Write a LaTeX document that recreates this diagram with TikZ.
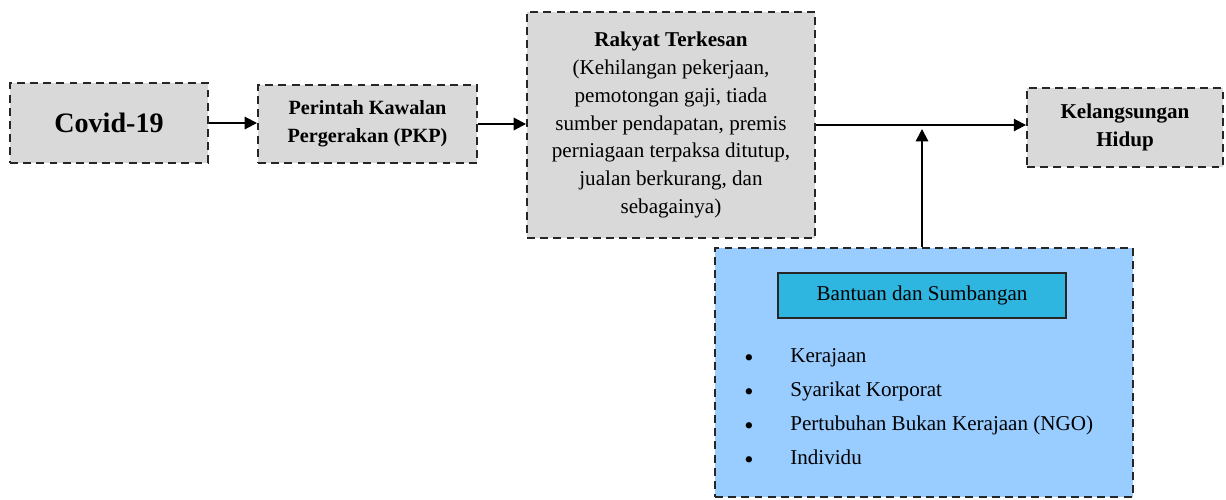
\documentclass[tikz,border=0pt]{standalone}
\usepackage{fontspec}
\setmainfont{Liberation Serif}
\usetikzlibrary{arrows.meta}
\definecolor{kelabu}{HTML}{D9D9D9}
\definecolor{birumuda}{HTML}{99CCFF}
\definecolor{biru}{HTML}{2EB5E0}
\tikzset{
  kotak/.style={draw=black!85, line width=1.1pt, dash pattern=on 4.5pt off 3pt,
    fill=kelabu, align=center, inner sep=2pt},
  anak/.style={-{Triangle[length=7pt,width=7pt]}, line width=1.1pt},
}
\begin{document}
\begin{tikzpicture}
    \useasboundingbox (0,0) rectangle (24.52,-9.98);

    % Boxes along the top row
    \node[kotak, minimum width=3.96cm, minimum height=1.6cm, font=\fontsize{16}{19}\selectfont\bfseries]
      (covid) at (2.18,-2.46) {Covid-19};
    \node[kotak, minimum width=4.38cm, minimum height=1.56cm, font=\fontsize{11.5}{16}\selectfont\bfseries]
      (pkp) at (7.35,-2.48) {Perintah Kawalan\\Pergerakan (PKP)};
    \node[kotak, minimum width=5.76cm, minimum height=4.52cm, font=\fontsize{12}{15.9}\selectfont]
      (rakyat) at (13.42,-2.5) {\textbf{Rakyat Terkesan}\\(Kehilangan pekerjaan,\\pemotongan gaji, tiada\\sumber pendapatan, premis\\perniagaan terpaksa ditutup,\\jualan berkurang, dan\\sebagainya)};
    \node[kotak, minimum width=3.92cm, minimum height=1.58cm, font=\fontsize{12}{16}\selectfont\bfseries]
      (hidup) at (22.5,-2.55) {Kelangsungan\\Hidup};

    % Box of help and donations
    \node[kotak, fill=birumuda, minimum width=8.36cm, minimum height=4.98cm]
      (bantuan) at (18.48,-7.45) {};
    \node[draw=black!85, line width=0.8pt, fill=biru, minimum width=5.76cm, minimum height=0.9cm,
      font=\fontsize{12}{14}\selectfont] (tajuk) at (18.44,-5.91) {Bantuan dan Sumbangan};
    \foreach \teks [count=\i] in {Kerajaan, Syarikat Korporat, Pertubuhan Bukan Kerajaan (NGO), Individu} {
      \node[anchor=base, font=\fontsize{15}{14}\selectfont, inner sep=0pt] (titik\i) at (14.98,-6.64-0.68*\i) {\textbullet};
      \node[anchor=base west, font=\fontsize{12}{14}\selectfont, inner sep=0pt] (item\i) at (15.8,-6.56-0.68*\i) {\teks};
    }

    % Arrows
    \draw[anak] (covid.east) -- (covid.east -| pkp.west);
    \draw[anak] (pkp.east) -- (pkp.east -| rakyat.west);
    \draw[anak] (rakyat.east) -- (rakyat.east -| hidup.west);
    \coordinate (naik) at (18.44,-2.58);
    \draw[anak] (naik |- bantuan.north) -- (naik);
\end{tikzpicture}
\end{document}
